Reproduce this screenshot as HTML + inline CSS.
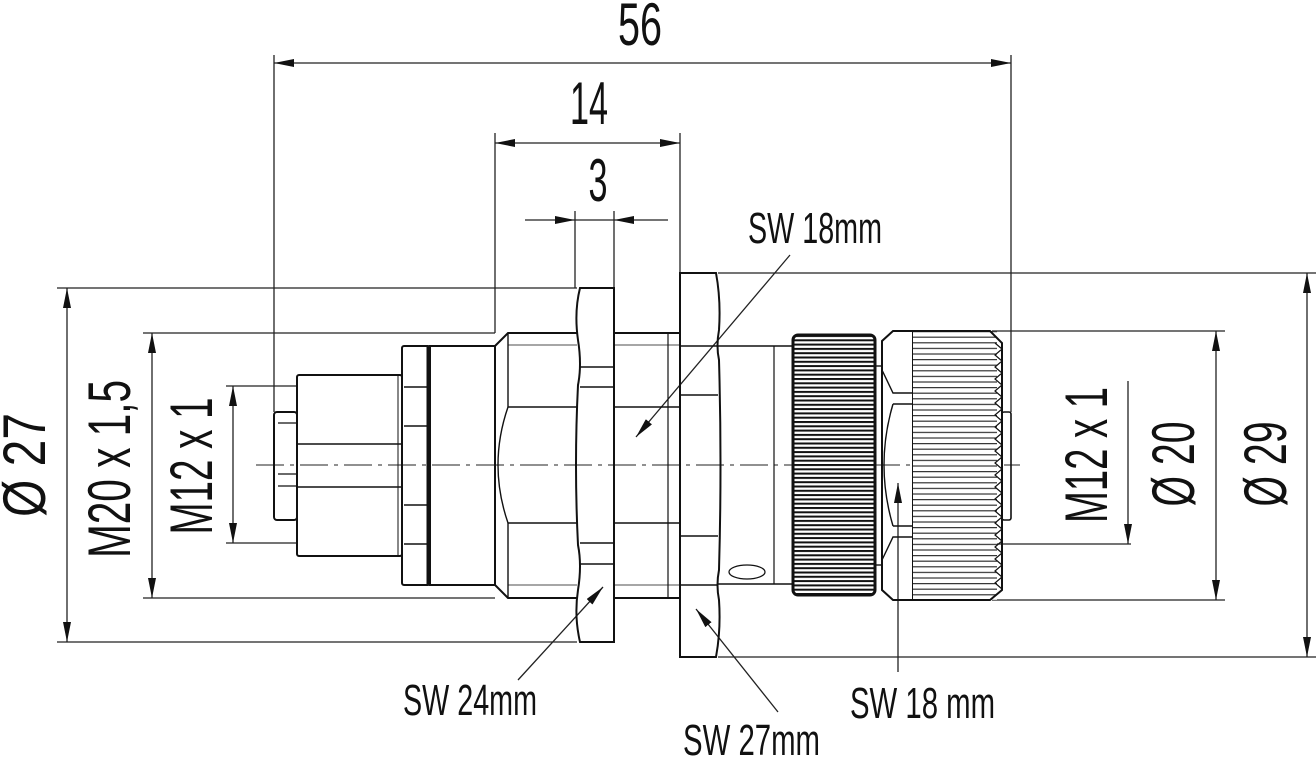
<!DOCTYPE html>
<html><head><meta charset="utf-8"><style>html,body{margin:0;padding:0;background:#fff}svg{display:block}text{font-family:"Liberation Sans",sans-serif;fill:#111}</style></head>
<body>
<svg width="1316" height="757" viewBox="0 0 1316 757" xmlns="http://www.w3.org/2000/svg">
<defs>
<pattern id="k1" x="0" y="335" width="10" height="4.3" patternUnits="userSpaceOnUse"><rect width="10" height="4.3" fill="#fff"/><rect y="0" width="10" height="2" fill="#111"/></pattern>
<pattern id="k2" x="0" y="331" width="10" height="5.6" patternUnits="userSpaceOnUse"><rect width="10" height="5.6" fill="#fff"/><rect y="0" width="10" height="1.2" fill="#333"/></pattern>
<marker id="a" viewBox="0 0 20 8" refX="20" refY="4" markerWidth="20" markerHeight="8" markerUnits="userSpaceOnUse" orient="auto"><path d="M0,0 L20,4 L0,8 z" fill="#111"/></marker>
<marker id="as" viewBox="0 0 20 8" refX="0" refY="4" markerWidth="20" markerHeight="8" markerUnits="userSpaceOnUse" orient="auto"><path d="M20,0 L0,4 L20,8 z" fill="#111"/></marker>
</defs>
<g stroke="#222" stroke-width="1.3" fill="none">
<line x1="274" y1="55" x2="274" y2="412"/>
<line x1="1011" y1="55" x2="1011" y2="412"/>
<line x1="495" y1="133" x2="495" y2="333"/>
<line x1="680" y1="133" x2="680" y2="273"/>
<line x1="575" y1="211" x2="575" y2="288"/>
<line x1="614" y1="211" x2="614" y2="288"/>
<line x1="57" y1="288" x2="577" y2="288"/>
<line x1="57" y1="642" x2="577" y2="642"/>
<line x1="143" y1="333" x2="495" y2="333"/>
<line x1="143" y1="598" x2="495" y2="598"/>
<line x1="226" y1="386" x2="296" y2="386"/>
<line x1="226" y1="543" x2="296" y2="543"/>
<line x1="718" y1="273" x2="1316" y2="273"/>
<line x1="718" y1="657" x2="1316" y2="657"/>
<line x1="992" y1="331" x2="1225" y2="331"/>
<line x1="992" y1="600" x2="1225" y2="600"/>
<line x1="913" y1="544" x2="1131" y2="544"/>
<line x1="274" y1="63" x2="1011" y2="63" marker-start="url(#as)" marker-end="url(#a)"/>
<line x1="495" y1="143" x2="680" y2="143" marker-start="url(#as)" marker-end="url(#a)"/>
<line x1="525" y1="220" x2="575" y2="220" marker-end="url(#a)"/>
<line x1="668" y1="220" x2="614" y2="220" marker-end="url(#a)"/>
<line x1="575" y1="220" x2="614" y2="220"/>
<line x1="67" y1="288" x2="67" y2="642" marker-start="url(#as)" marker-end="url(#a)"/>
<line x1="152" y1="333" x2="152" y2="598" marker-start="url(#as)" marker-end="url(#a)"/>
<line x1="233" y1="386" x2="233" y2="543" marker-start="url(#as)" marker-end="url(#a)"/>
<line x1="1128" y1="381" x2="1128" y2="544" marker-end="url(#a)"/>
<line x1="1216" y1="331" x2="1216" y2="600" marker-start="url(#as)" marker-end="url(#a)"/>
<line x1="1307" y1="273" x2="1307" y2="657" marker-start="url(#as)" marker-end="url(#a)"/>
<line x1="790" y1="255" x2="636" y2="437" marker-end="url(#a)"/>
<line x1="518" y1="680" x2="603" y2="587" marker-end="url(#a)"/>
<line x1="778" y1="712" x2="696" y2="609" marker-end="url(#a)"/>
<line x1="898" y1="672" x2="898" y2="483" marker-end="url(#a)"/>
<line x1="256" y1="465" x2="1020" y2="465" stroke-width="1" stroke-dasharray="28,6,4,6"/>
</g>
<g stroke="#111" stroke-width="2" fill="none">
<rect x="274" y="412" width="23" height="108" rx="3"/>
<line x1="278" y1="423" x2="297" y2="423" stroke-width="1.2"/>
<line x1="278" y1="474" x2="297" y2="474" stroke-width="1.2"/>
<line x1="278" y1="486" x2="297" y2="486" stroke-width="1.2"/>
<rect x="297" y="375" width="105" height="181" rx="2"/>
<line x1="297" y1="444" x2="402" y2="444" stroke-width="1.4"/>
<line x1="297" y1="487" x2="402" y2="487" stroke-width="1.4"/>
<line x1="398" y1="375" x2="398" y2="556" stroke-width="1"/>
<rect x="402" y="346" width="28" height="239" rx="2"/>
<line x1="428" y1="346" x2="428" y2="585" stroke-width="3"/>
<line x1="404" y1="387" x2="428" y2="387" stroke-width="1.4"/>
<line x1="404" y1="426" x2="428" y2="426" stroke-width="1.4"/>
<line x1="404" y1="505" x2="428" y2="505" stroke-width="1.4"/>
<line x1="404" y1="544" x2="428" y2="544" stroke-width="1.4"/>
<rect x="430" y="346" width="65" height="239"/>
<path d="M495,346 L508,333 L577,333 M495,346 L495,585 L508,598 L577,598"/>
<line x1="508" y1="333" x2="508" y2="407" stroke-width="1.4"/>
<line x1="508" y1="523" x2="508" y2="598" stroke-width="1.4"/>
<path d="M508,407 Q488,465 508,523" stroke-width="1.4"/>
<line x1="508" y1="407" x2="577" y2="407" stroke-width="1.4"/>
<line x1="508" y1="523" x2="577" y2="523" stroke-width="1.4"/>
<line x1="508" y1="345" x2="577" y2="345" stroke-width="0.8"/>
<line x1="508" y1="585" x2="577" y2="585" stroke-width="0.8"/>
<path d="M580,288 L614,288 L614,642 L580,642 Q574,616 578,590 Q582,565 578,545 Q574,465 578,385 Q582,365 578,340 Q574,312 580,288 Z"/>
<line x1="580" y1="367" x2="614" y2="367" stroke-width="1.4"/>
<line x1="580" y1="387" x2="614" y2="387" stroke-width="1.4"/>
<line x1="580" y1="543" x2="614" y2="543" stroke-width="1.4"/>
<line x1="580" y1="564" x2="614" y2="564" stroke-width="1.4"/>
<path d="M614,333 L680,333 M614,598 L680,598"/>
<line x1="614" y1="407" x2="680" y2="407" stroke-width="1.4"/>
<line x1="614" y1="523" x2="680" y2="523" stroke-width="1.4"/>
<line x1="614" y1="345" x2="680" y2="345" stroke-width="0.8"/>
<line x1="614" y1="585" x2="680" y2="585" stroke-width="0.8"/>
<line x1="668" y1="333" x2="668" y2="598" stroke-width="1.2"/>
<path d="M680,273 L716,273 Q721,300 719,330 Q716,346 719,360 Q722,465 719,570 Q716,585 719,600 Q721,630 716,657 L680,657 Z"/>
<line x1="680" y1="346" x2="718" y2="346" stroke-width="1.4"/>
<line x1="680" y1="395" x2="718" y2="395" stroke-width="1.4"/>
<line x1="680" y1="536" x2="718" y2="536" stroke-width="1.4"/>
<line x1="680" y1="585" x2="718" y2="585" stroke-width="1.4"/>
<path d="M718,346 L793,346 M718,584 L793,584" stroke-width="1.6"/>
<line x1="774" y1="346" x2="774" y2="584" stroke-width="1.2"/>
<ellipse cx="747" cy="572" rx="18" ry="7" stroke-width="1.3"/>
<rect x="793" y="335" width="82" height="260" rx="5" fill="url(#k1)" stroke-width="3"/>
<line x1="875" y1="366" x2="882" y2="366" stroke-width="1.4"/>
<line x1="875" y1="565" x2="882" y2="565" stroke-width="1.4"/>
<path d="M893,331 L913,331 L913,600 L893,600 L882,590 L882,341 Z"/>
<path d="M882,370 L893,393 L913,393 M893,404 L913,404 M893,404 Q875,465 893,526 M893,526 L913,526 M893,537 L913,537 L893,537 L882,560" stroke-width="1.4"/>
<rect x="913" y="331" width="84" height="269" fill="url(#k2)" stroke="none"/>
<path d="M913,331 L990,331 L1002,343 L1002,590 L990,600 L913,600" stroke-width="2"/>
<path d="M995,343 l7,6 l-7,6 l7,6 l-7,6 l7,6 l-7,6 l7,6 l-7,6 l7,6 l-7,6 l7,6 l-7,6 l7,6 l-7,6 l7,6 l-7,6 l7,6 l-7,6 l7,6 l-7,6 l7,6 l-7,6 l7,6 l-7,6 l7,6 l-7,6 l7,6 l-7,6 l7,6 l-7,6 l7,6 l-7,6 l7,6 l-7,6 l7,6 l-7,6 l7,6 l-7,6 l7,6 l-7,6 l7,6" stroke-width="1.2"/>
<rect x="1002" y="412" width="9" height="108" rx="2" stroke-width="1.6"/>
</g>
<g font-size="60">
<text x="640" y="45" text-anchor="middle" textLength="44" lengthAdjust="spacingAndGlyphs">56</text>
<text x="589" y="124" text-anchor="middle" textLength="38" lengthAdjust="spacingAndGlyphs">14</text>
<text x="598" y="201" text-anchor="middle" textLength="19" lengthAdjust="spacingAndGlyphs">3</text>
<text transform="translate(45,465) rotate(-90)" text-anchor="middle" textLength="104" lengthAdjust="spacingAndGlyphs">Ø 27</text>
<text transform="translate(130,469) rotate(-90)" text-anchor="middle" textLength="178" lengthAdjust="spacingAndGlyphs">M20 x 1,5</text>
<text transform="translate(212,466) rotate(-90)" text-anchor="middle" textLength="137" lengthAdjust="spacingAndGlyphs">M12 x 1</text>
<text transform="translate(1107,455) rotate(-90)" text-anchor="middle" textLength="136" lengthAdjust="spacingAndGlyphs">M12 x 1</text>
<text transform="translate(1194,464) rotate(-90)" text-anchor="middle" textLength="85" lengthAdjust="spacingAndGlyphs">Ø 20</text>
<text transform="translate(1286,464) rotate(-90)" text-anchor="middle" textLength="85" lengthAdjust="spacingAndGlyphs">Ø 29</text>
</g>
<g font-size="44">
<text x="748" y="243" textLength="134" lengthAdjust="spacingAndGlyphs">SW 18mm</text>
<text x="403" y="715" textLength="134" lengthAdjust="spacingAndGlyphs">SW 24mm</text>
<text x="683" y="755" textLength="137" lengthAdjust="spacingAndGlyphs">SW 27mm</text>
<text x="850" y="718" textLength="145" lengthAdjust="spacingAndGlyphs">SW 18 mm</text>
</g>
</svg>
</body></html>
